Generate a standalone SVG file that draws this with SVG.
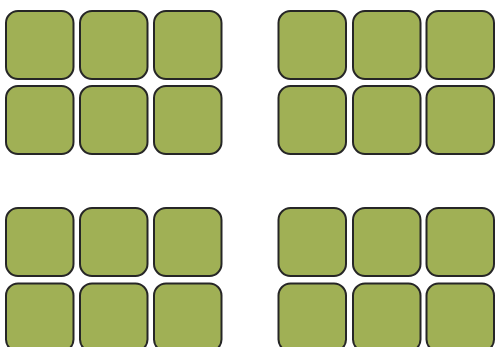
<svg xmlns="http://www.w3.org/2000/svg" width="495" height="347" viewBox="0 0 495 347">
<style>
.b{fill:#a0b055;stroke:#262626;stroke-width:2}
</style>
<defs><rect id="r" class="b" width="67.5" height="68" rx="12" ry="12"/></defs>
<rect width="495" height="347" fill="#fff"/>
<g id="group-tl">
<use id="tl1" href="#r" x="6" y="11"/><use id="tl2" href="#r" x="80" y="11"/><use id="tl3" href="#r" x="154" y="11"/>
<use id="tl4" href="#r" x="6" y="86"/><use id="tl5" href="#r" x="80" y="86"/><use id="tl6" href="#r" x="154" y="86"/>
</g>
<g id="group-tr">
<use id="tr1" href="#r" x="278.5" y="11"/><use id="tr2" href="#r" x="353" y="11"/><use id="tr3" href="#r" x="426.5" y="11"/>
<use id="tr4" href="#r" x="278.5" y="86"/><use id="tr5" href="#r" x="353" y="86"/><use id="tr6" href="#r" x="426.5" y="86"/>
</g>
<g id="group-bl">
<use id="bl1" href="#r" x="6" y="208"/><use id="bl2" href="#r" x="80" y="208"/><use id="bl3" href="#r" x="154" y="208"/>
<use id="bl4" href="#r" x="6" y="283.5"/><use id="bl5" href="#r" x="80" y="283.5"/><use id="bl6" href="#r" x="154" y="283.5"/>
</g>
<g id="group-br">
<use id="br1" href="#r" x="278.5" y="208"/><use id="br2" href="#r" x="353" y="208"/><use id="br3" href="#r" x="426.5" y="208"/>
<use id="br4" href="#r" x="278.5" y="283.5"/><use id="br5" href="#r" x="353" y="283.5"/><use id="br6" href="#r" x="426.5" y="283.5"/>
</g>
<g id="connectors"/>
</svg>
